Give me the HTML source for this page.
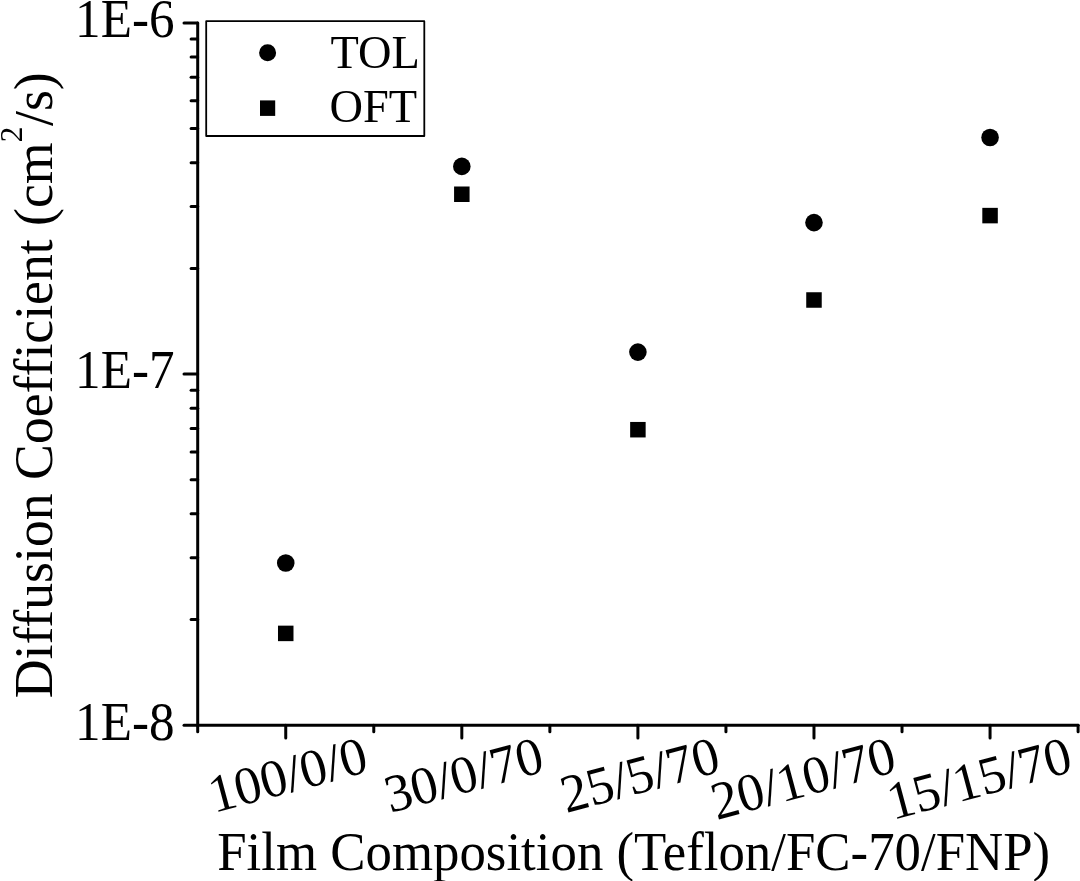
<!DOCTYPE html>
<html lang="en"><head><meta charset="utf-8"><title>Diffusion Coefficient vs Film Composition</title>
<style>html,body{margin:0;padding:0;background:#fff}body{width:1080px;height:881px;overflow:hidden}svg{display:block}text{font-family:"Liberation Serif","Times New Roman",serif;fill:#000;font-variant-ligatures:none}</style></head><body>
<svg width="1080" height="881" viewBox="0 0 1080 881">
<rect width="1080" height="881" fill="#fff"/>
<g stroke="#000" stroke-width="3.0" stroke-linecap="round" fill="none">
<line x1="197.7" y1="22.90" x2="197.7" y2="725.3"/>
<line x1="197.7" y1="725.3" x2="1078.10" y2="725.3"/>
<line x1="184.00" y1="725.30" x2="197.7" y2="725.30"/>
<line x1="191.10" y1="619.58" x2="197.7" y2="619.58"/>
<line x1="191.10" y1="557.74" x2="197.7" y2="557.74"/>
<line x1="191.10" y1="513.86" x2="197.7" y2="513.86"/>
<line x1="191.10" y1="479.82" x2="197.7" y2="479.82"/>
<line x1="191.10" y1="452.01" x2="197.7" y2="452.01"/>
<line x1="191.10" y1="428.50" x2="197.7" y2="428.50"/>
<line x1="191.10" y1="408.13" x2="197.7" y2="408.13"/>
<line x1="191.10" y1="390.17" x2="197.7" y2="390.17"/>
<line x1="184.00" y1="374.10" x2="197.7" y2="374.10"/>
<line x1="191.10" y1="268.38" x2="197.7" y2="268.38"/>
<line x1="191.10" y1="206.54" x2="197.7" y2="206.54"/>
<line x1="191.10" y1="162.66" x2="197.7" y2="162.66"/>
<line x1="191.10" y1="128.62" x2="197.7" y2="128.62"/>
<line x1="191.10" y1="100.81" x2="197.7" y2="100.81"/>
<line x1="191.10" y1="77.30" x2="197.7" y2="77.30"/>
<line x1="191.10" y1="56.93" x2="197.7" y2="56.93"/>
<line x1="191.10" y1="38.97" x2="197.7" y2="38.97"/>
<line x1="184.00" y1="22.90" x2="197.7" y2="22.90"/>
<line x1="285.74" y1="725.3" x2="285.74" y2="738.00"/>
<line x1="461.82" y1="725.3" x2="461.82" y2="738.00"/>
<line x1="637.90" y1="725.3" x2="637.90" y2="738.00"/>
<line x1="813.98" y1="725.3" x2="813.98" y2="738.00"/>
<line x1="990.06" y1="725.3" x2="990.06" y2="738.00"/>
<line x1="197.70" y1="725.3" x2="197.70" y2="731.70"/>
<line x1="373.78" y1="725.3" x2="373.78" y2="731.70"/>
<line x1="549.86" y1="725.3" x2="549.86" y2="731.70"/>
<line x1="725.94" y1="725.3" x2="725.94" y2="731.70"/>
<line x1="902.02" y1="725.3" x2="902.02" y2="731.70"/>
<line x1="1078.10" y1="725.3" x2="1078.10" y2="731.70"/>
</g>
<g fill="#000">
<circle cx="285.74" cy="563.00" r="8.8"/>
<circle cx="461.82" cy="166.40" r="8.8"/>
<circle cx="637.90" cy="352.10" r="8.8"/>
<circle cx="813.98" cy="222.60" r="8.8"/>
<circle cx="990.06" cy="137.50" r="8.8"/>
<rect x="277.99" y="625.65" width="15.5" height="15.5"/>
<rect x="454.07" y="186.50" width="15.5" height="15.5"/>
<rect x="630.15" y="421.95" width="15.5" height="15.5"/>
<rect x="806.23" y="292.25" width="15.5" height="15.5"/>
<rect x="982.31" y="207.85" width="15.5" height="15.5"/>
</g>
<rect x="206.2" y="21.2" width="218.1" height="114.8" fill="#fff" stroke="#000" stroke-width="1.8" stroke-linejoin="round"/>
<circle cx="267.6" cy="52.8" r="8.5"/>
<rect x="260" y="100.4" width="15.2" height="15.5"/>
<text x="330.5" y="67.5" font-size="46.4">TOL</text>
<text x="329.4" y="122.3" font-size="46.4">OFT</text>
<text transform="translate(174.5 37.20) scale(0.93 1)" text-anchor="end" font-size="55">1E-6</text>
<text transform="translate(174.5 388.40) scale(0.93 1)" text-anchor="end" font-size="55">1E-7</text>
<text transform="translate(174.5 739.60) scale(0.93 1)" text-anchor="end" font-size="55">1E-8</text>
<text transform="translate(370.34 771.2) rotate(-15) scale(0.99 1)" text-anchor="end" font-size="53.5">100/0/0</text>
<text transform="translate(546.42 771.2) rotate(-15) scale(0.99 1)" text-anchor="end" font-size="53.5">30/0/70</text>
<text transform="translate(722.50 771.2) rotate(-15) scale(0.99 1)" text-anchor="end" font-size="53.5">25/5/70</text>
<text transform="translate(898.58 771.2) rotate(-15) scale(0.99 1)" text-anchor="end" font-size="53.5">20/10/70</text>
<text transform="translate(1074.66 771.2) rotate(-15) scale(0.99 1)" text-anchor="end" font-size="53.5">15/15/70</text>
<text transform="translate(217.2 869.5) scale(0.961 1)" font-size="55">Film Composition (Teflon/FC-70/FNP)</text>
<text transform="translate(51.9 698.3) rotate(-90) scale(0.9767 1)" font-size="55">Diffusion Coefficient (cm<tspan font-size="32" dy="-29.9">2</tspan><tspan dy="29.9" dx="0.8">/s)</tspan></text>
</svg></body></html>
